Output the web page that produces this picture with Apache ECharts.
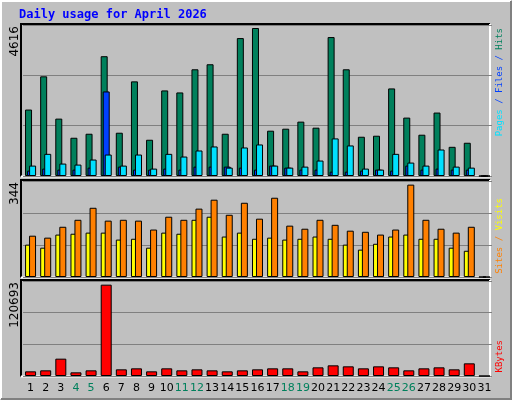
<!DOCTYPE html>
<html><head><meta charset="utf-8">
<script src="https://cdn.jsdelivr.net/npm/echarts@6/dist/echarts.min.js"></script>
<style>html,body{margin:0;padding:0;background:#c0c0c0}#c{width:512px;height:400px}</style>
</head><body><div id="c"></div>
<script>
const days = Array.from({length:31},(_,i)=>String(i+1));
const weekendDays = ['4','5','11','12','18','19','25','26'];
const hits = [2031,3047,1754,1169,1292,3662,1323,2893,1108,2616,2554,3262,3416,1292,4216,4524,1385,1446,1662,1477,4247,3262,1200,1231,2677,1785,1262,1939,892,1016,0];
const files = [164,226,195,195,256,2585,287,195,195,226,195,287,287,287,256,195,318,256,195,195,133,133,164,195,164,318,195,226,195,195,0];
const pages = [318,677,380,349,503,656,318,656,226,677,595,780,903,256,872,964,318,256,287,472,1149,934,226,195,677,410,318,810,287,256,0];
const visits = [116,105,152,155,159,159,134,137,105,159,155,205,216,145,159,137,141,134,137,145,137,116,98,119,145,152,137,137,105,94,0];
const sites = [148,141,180,205,248,202,205,202,170,216,205,245,277,223,266,209,284,184,173,205,187,166,162,152,170,331,205,173,159,180,0];
const kbytes = [5929,7199,22021,4658,7199,116038,8470,9740,5929,9740,7199,8470,7199,5929,7199,8470,9740,9740,5929,11011,13552,12281,9740,12281,11011,7199,9740,11011,8470,16093,0];
const maxLabels = ['4616','344','120693'];
const maxVals = [4616,344,120693];

const C = {hits:'#00805c',files:'#0040ff',pages:'#00e0ff',visits:'#ffff00',sites:'#ff8000',kb:'#ff0000'};
const panels = [[25,151],[181,96],[281,95]];
const GL=23, GW=469, FL=21, FR=490;
const font = 'DejaVu Sans';

const grids = panels.map(p=>({left:GL,width:GW,top:p[0],height:p[1]}));
const xAxes = panels.map((p,i)=>({type:'category',gridIndex:i,data:days,
  axisLine:{show:false},axisTick:{show:false},
  axisLabel:{show:i===2,interval:0,fontFamily:font,fontSize:11,margin:7,
    color:(v)=>weekendDays.includes(v)?'#00805c':'#000'}}));
const yAxes = maxVals.map((m,i)=>({type:'value',gridIndex:i,min:0,max:m,interval:m/3,
  axisLabel:{show:false},axisLine:{show:false},axisTick:{show:false},
  splitLine:{show:true,lineStyle:{color:'#808080',width:1}}}));
const bs = {borderColor:'#000',borderWidth:1};
const series = [
  {type:'bar',xAxisIndex:0,yAxisIndex:0,data:hits,barWidth:7,barGap:'-71%',itemStyle:{color:C.hits,...bs}},
  {type:'bar',xAxisIndex:0,yAxisIndex:0,data:files,barWidth:7,barGap:'-71%',itemStyle:{color:C.files,...bs}},
  {type:'bar',xAxisIndex:0,yAxisIndex:0,data:pages,barWidth:7,barGap:'-71%',itemStyle:{color:C.pages,...bs}},
  {type:'bar',xAxisIndex:1,yAxisIndex:1,data:visits,barWidth:7,barGap:'-43%',itemStyle:{color:C.visits,...bs}},
  {type:'bar',xAxisIndex:1,yAxisIndex:1,data:sites,barWidth:7,barGap:'-43%',itemStyle:{color:C.sites,...bs}},
  {type:'bar',xAxisIndex:2,yAxisIndex:2,data:kbytes,barWidth:11,itemStyle:{color:C.kb,...bs}}
].map(s=>({...s,silent:true,animation:false}));

const g = [];
const line=(pts,color,w)=>g.push({type:'polyline',silent:true,shape:{points:pts},style:{stroke:color,lineWidth:w,fill:null}});
line([[1,399],[1,1],[511,1]],'#ffffff',2);
line([[1,399],[511,399],[511,1]],'#808080',2);
panels.forEach((p,i)=>{
  const t=p[0]-1, b=p[0]+p[1]+0.5;
  line([[FL,b],[FL,t],[FR,t]],'#000',2);
  line([[FL,b],[FR,b],[FR,t]],'#ffffff',2);
  g.push({type:'text',silent:true,x:15,y:p[0]+1,rotation:Math.PI/2,
    style:{text:maxLabels[i],font:'12px "'+font+'"',fill:'#000',align:'right',verticalAlign:'middle'}});
});
g.push({type:'text',silent:true,x:19,y:15,style:{text:'Daily usage for April 2026',
  font:'bold 12px "DejaVu Sans Mono"',fill:'#0000ff',align:'left',verticalAlign:'middle'}});
const RF='9px "DejaVu Sans Mono"';
const rlab=(y,txt,rich)=>g.push({type:'text',silent:true,x:500,y:y,rotation:Math.PI/2,
  style:{text:txt,rich:rich,font:RF,align:'right',verticalAlign:'middle'}});
const rs=(c)=>({fill:c,font:RF});
rlab(28,'{p|Pages}{f| / Files}{s| / }{h|Hits}',{p:rs(C.pages),f:rs(C.files),s:rs(C.files),h:rs(C.hits)});
rlab(198,'{s|Sites}{a| / }{v|Visits}',{s:rs(C.sites),a:rs(C.sites),v:rs(C.visits)});
rlab(340,'{k|KBytes}',{k:rs(C.kb)});

const chart = echarts.init(document.getElementById('c'),null,{renderer:'canvas'});
chart.setOption({backgroundColor:'#c0c0c0',animation:false,grid:grids,xAxis:xAxes,yAxis:yAxes,series:series,graphic:g});
</script></body></html>
